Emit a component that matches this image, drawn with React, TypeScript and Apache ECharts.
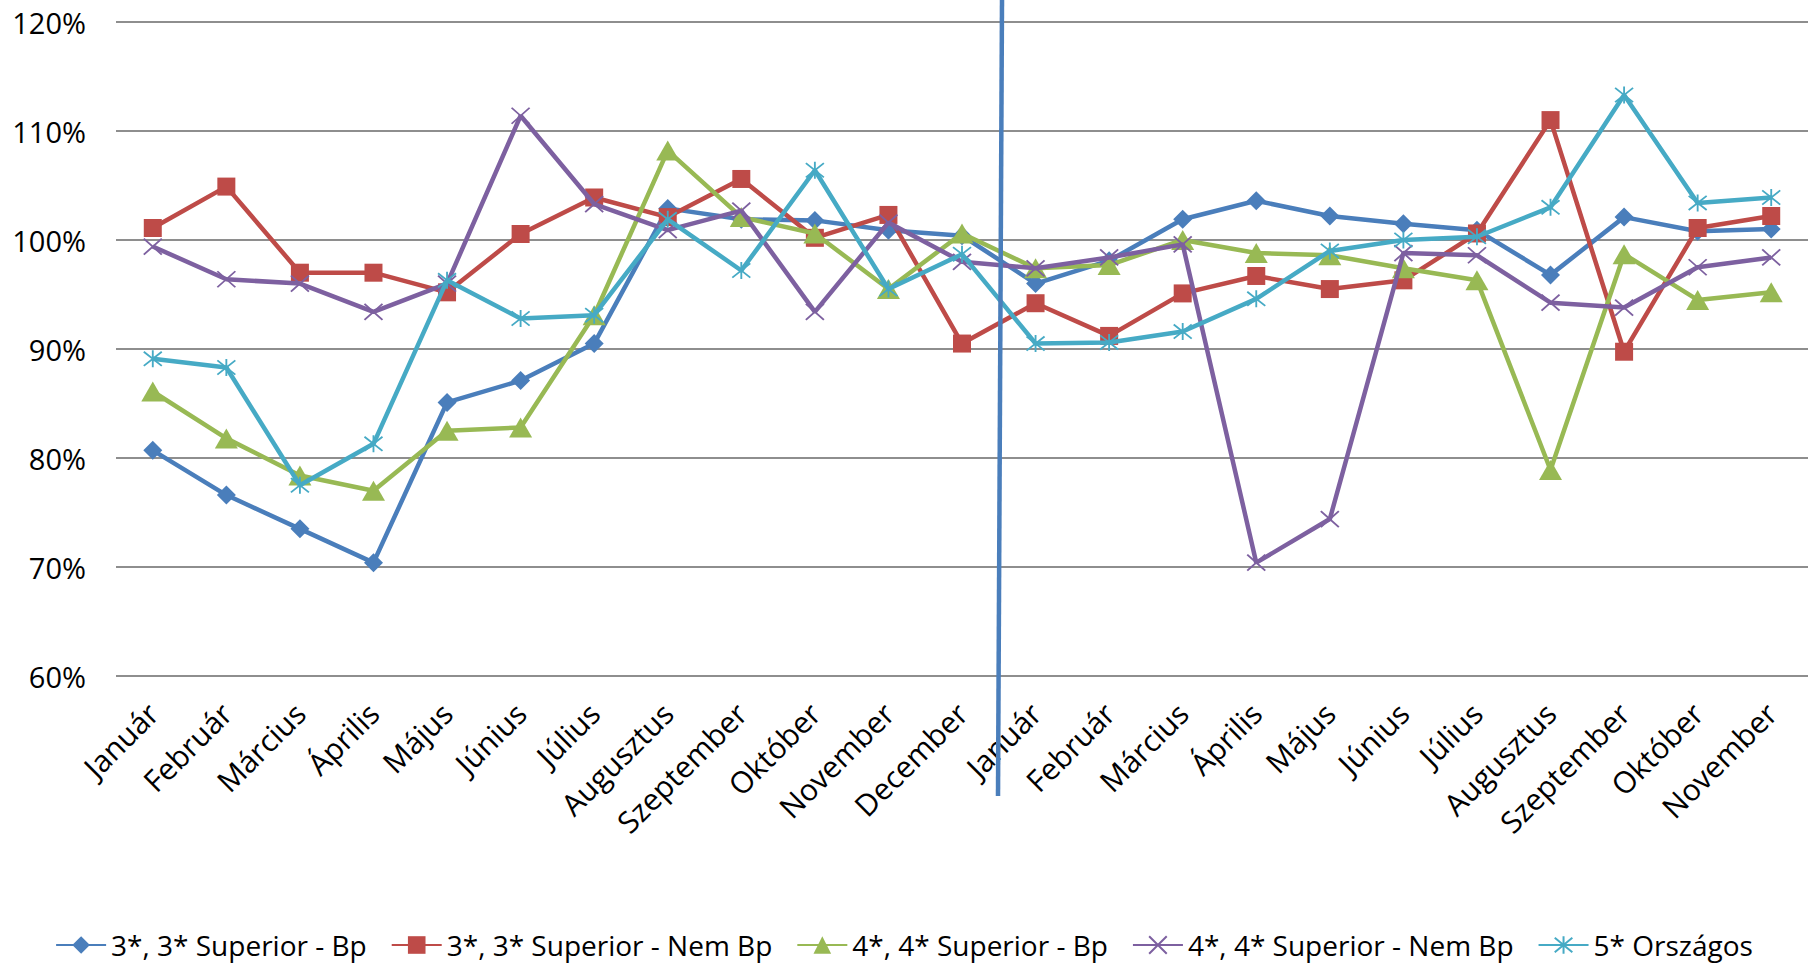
import React, { useEffect, useRef } from "react";
import * as echarts from "echarts";

const categories = [
  "Január", "Február", "Március", "Április", "Május", "Június", "Július", "Augusztus",
  "Szeptember", "Október", "November", "December",
  "Január", "Február", "Március", "Április", "Május", "Június", "Július", "Augusztus",
  "Szeptember", "Október", "November",
];

const seriesNames = [
  "3*, 3* Superior - Bp",
  "3*, 3* Superior - Nem Bp",
  "4*, 4* Superior - Bp",
  "4*, 4* Superior - Nem Bp",
  "5* Országos",
];

const s3Bp = [80.7, 76.6, 73.5, 70.4, 85.1, 87.1, 90.5, 102.9, 101.9, 101.8, 100.9, 100.4, 96.0, 98.1, 101.9, 103.6, 102.2, 101.5, 100.9, 96.8, 102.1, 100.8, 101.0];
const s3NemBp = [101.1, 104.9, 97.0, 97.0, 95.2, 100.55, 103.9, 102.1, 105.6, 100.2, 102.3, 90.5, 94.2, 91.2, 95.1, 96.7, 95.5, 96.3, 100.6, 111.0, 89.75, 101.1, 102.2];
const s4Bp = [86.1, 81.8, 78.4, 77.0, 82.5, 82.8, 93.1, 108.2, 102.1, 100.6, 95.5, 100.6, 97.4, 97.7, 100.0, 98.8, 98.6, 97.4, 96.3, 78.9, 98.7, 94.5, 95.2];
const s4NemBp = [99.4, 96.4, 96.0, 93.4, 96.0, 111.4, 103.3, 100.9, 102.7, 93.4, 101.6, 98.0, 97.4, 98.4, 99.6, 70.4, 74.4, 98.8, 98.6, 94.25, 93.8, 97.5, 98.4];
const s5 = [89.1, 88.3, 77.5, 81.3, 96.3, 92.8, 93.1, 101.9, 97.2, 106.4, 95.5, 98.7, 90.5, 90.6, 91.6, 94.6, 99.0, 100.0, 100.3, 103.0, 113.3, 103.4, 103.9];

const yMin = 60;
const yMax = 120;
const yStep = 10;

const colors = ["#4A7EBB", "#BE4B48", "#98B954", "#7D60A0", "#46AAC5"];

const FONT = "'Open Sans', 'Noto Sans', sans-serif";

export default function App() {
  const ref = useRef<HTMLDivElement>(null);

  useEffect(() => {
    if (!ref.current) return;
    const chart = echarts.init(ref.current, null, { renderer: "svg" });

    const allData = [s3Bp, s3NemBp, s4Bp, s4NemBp, s5];
    const symbols: any[] = [
      "diamond",
      "rect",
      "triangle",
      "path://M0 0L10 10M10 0L0 10",
      "path://M0 0L10 10M10 0L0 10M5 -1L5 11",
    ];
    const sizes: any[] = [[19, 19], [18, 18], [23, 20], [18, 16], [18, 17]];

    const series = allData.map((d, i) => ({
      name: seriesNames[i],
      type: "line",
      data: d,
      symbol: symbols[i],
      symbolSize: sizes[i],
      showAllSymbol: true,
      lineStyle: { color: colors[i], width: 4.5 },
      itemStyle: {
        color: colors[i],
        borderColor: colors[i],
        borderWidth: i >= 3 ? 1.8 : 0,
      },
      emphasis: { disabled: true },
      z: 2 + i,
    }));

    chart.setOption({
      animation: false,
      backgroundColor: "#ffffff",
      grid: { left: 116, right: -26, top: 22, bottom: 291, containLabel: false },
      legend: {
        data: seriesNames,
        top: 930,
        left: "center",
        padding: 0,
        itemWidth: 50,
        itemHeight: 22,
        itemGap: 24,
        textStyle: { fontFamily: FONT, fontSize: 28, lineHeight: 30, color: "#000" },
      },
      xAxis: {
        type: "category",
        data: categories,
        boundaryGap: true,
        axisLine: { show: false },
        axisTick: { show: false },
        axisLabel: {
          interval: 0,
          rotate: 45,
          margin: 32,
          fontFamily: FONT,
          fontSize: 30,
          color: "#000",
        },
      },
      yAxis: {
        type: "value",
        min: yMin,
        max: yMax,
        interval: yStep,
        axisLine: { show: false },
        axisTick: { show: false },
        axisLabel: {
          formatter: "{value}%",
          margin: 30,
          fontFamily: FONT,
          fontSize: 29,
          color: "#000",
        },
        splitLine: { lineStyle: { color: "#8e8e8e", width: 2 } },
      },
      graphic: [
        {
          type: "line",
          z: 100,
          shape: { x1: 1002, y1: 0, x2: 998, y2: 796 },
          style: { stroke: "#4A7EBB", lineWidth: 4.5 },
        },
      ],
      series,
    });

    return () => chart.dispose();
  }, []);

  return (
    <div
      ref={ref}
      style={{ position: "fixed", left: 0, top: 0, width: 1808, height: 967, background: "#fff" }}
    />
  );
}
